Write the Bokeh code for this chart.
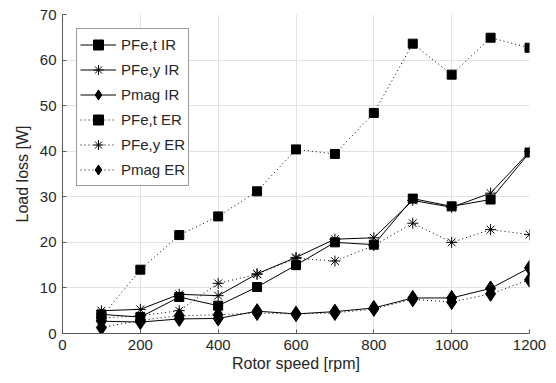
from bokeh.plotting import figure
from bokeh.models import Range1d, FixedTicker, Legend, LegendItem
from bokeh.embed import file_html
from bokeh.resources import INLINE

speed = [100, 200, 300, 400, 500, 600, 700, 800, 900, 1000, 1100, 1200]

pfe_t_ir = [4.2, 3.6, 8.0, 6.1, 10.2, 15.0, 20.0, 19.5, 29.6, 27.9, 29.4, 39.7]
pfe_y_ir = [5.0, 5.3, 8.6, 8.3, 13.1, 16.7, 20.7, 21.0, 29.2, 27.7, 30.8, 39.9]
pmag_ir = [2.7, 2.5, 3.2, 3.3, 4.9, 4.3, 4.8, 5.6, 7.8, 7.8, 9.9, 14.4]
pfe_t_er = [3.6, 14.0, 21.6, 25.7, 31.2, 40.4, 39.4, 48.4, 63.6, 56.8, 64.9, 62.7]
pfe_y_er = [3.4, 3.9, 5.0, 11.0, 13.0, 16.5, 15.9, 19.3, 24.2, 20.0, 22.8, 21.7]
pmag_er = [1.3, 2.9, 3.9, 4.1, 4.5, 4.3, 4.5, 5.4, 7.5, 6.9, 8.7, 11.8]

names = ["PFe,t IR", "PFe,y IR", "Pmag IR", "PFe,t ER", "PFe,y ER", "Pmag ER"]
series = [pfe_t_ir, pfe_y_ir, pmag_ir, pfe_t_er, pfe_y_er, pmag_er]
markers = ["square", "asterisk", "diamond", "square", "asterisk", "diamond"]
msizes = [9, 11, 15, 9, 11, 15]
dashes = ["solid", "solid", "solid", "1 3", "1 3", "1 3"]

FONT = "Liberation Sans"
TXT = "#262626"

p = figure(width=556, height=383, output_backend="svg", toolbar_location=None,
           x_range=Range1d(0, 1200), y_range=Range1d(0, 70),
           min_border_left=62, min_border_right=27, min_border_top=14, min_border_bottom=50)
p.outline_line_color = None
p.background_fill_color = "white"
p.border_fill_color = "white"

for ax in (p.xaxis[0], p.yaxis[0]):
    ax.axis_line_color = "#5a5a5a"
    ax.major_tick_line_color = "#5a5a5a"
    ax.major_tick_in = 4
    ax.major_tick_out = 0
    ax.minor_tick_line_color = None
    ax.major_label_text_font = FONT
    ax.major_label_text_font_size = "15px"
    ax.major_label_text_color = TXT
    ax.axis_label_text_font = FONT
    ax.axis_label_text_font_size = "16px"
    ax.axis_label_text_font_style = "normal"
    ax.axis_label_text_color = TXT

p.xaxis[0].ticker = FixedTicker(ticks=[0, 200, 400, 600, 800, 1000, 1200])
p.yaxis[0].ticker = FixedTicker(ticks=[0, 10, 20, 30, 40, 50, 60, 70])
p.xaxis[0].axis_label = "Rotor speed [rpm]"
p.yaxis[0].axis_label = "Load loss [W]"
p.xaxis[0].major_label_standoff = 6
p.yaxis[0].major_label_standoff = 6
p.xaxis[0].axis_label_standoff = 2
p.yaxis[0].axis_label_standoff = 6

p.xgrid.grid_line_color = "#e3e3e3"
p.ygrid.grid_line_color = "#e3e3e3"

items = []
for name, ys, mk, ms, dash in zip(names, series, markers, msizes, dashes):
    l = p.line(speed, ys, line_color="black", line_width=1, line_dash=dash)
    s = p.scatter(speed, ys, marker=mk, size=ms, line_color="black", fill_color="black", line_width=1)
    items.append(LegendItem(label=name, renderers=[l, s]))

legend = Legend(items=items, location="top_left", margin=14,
                label_text_font=FONT, label_text_font_size="15px", label_text_color=TXT,
                glyph_width=36, glyph_height=25, label_height=25, spacing=-5,
                padding=3, label_standoff=5,
                border_line_color="#333333", border_line_width=1,
                background_fill_color="white", background_fill_alpha=1)
p.add_layout(legend)

open("out.html", "w").write(file_html(p, INLINE))
